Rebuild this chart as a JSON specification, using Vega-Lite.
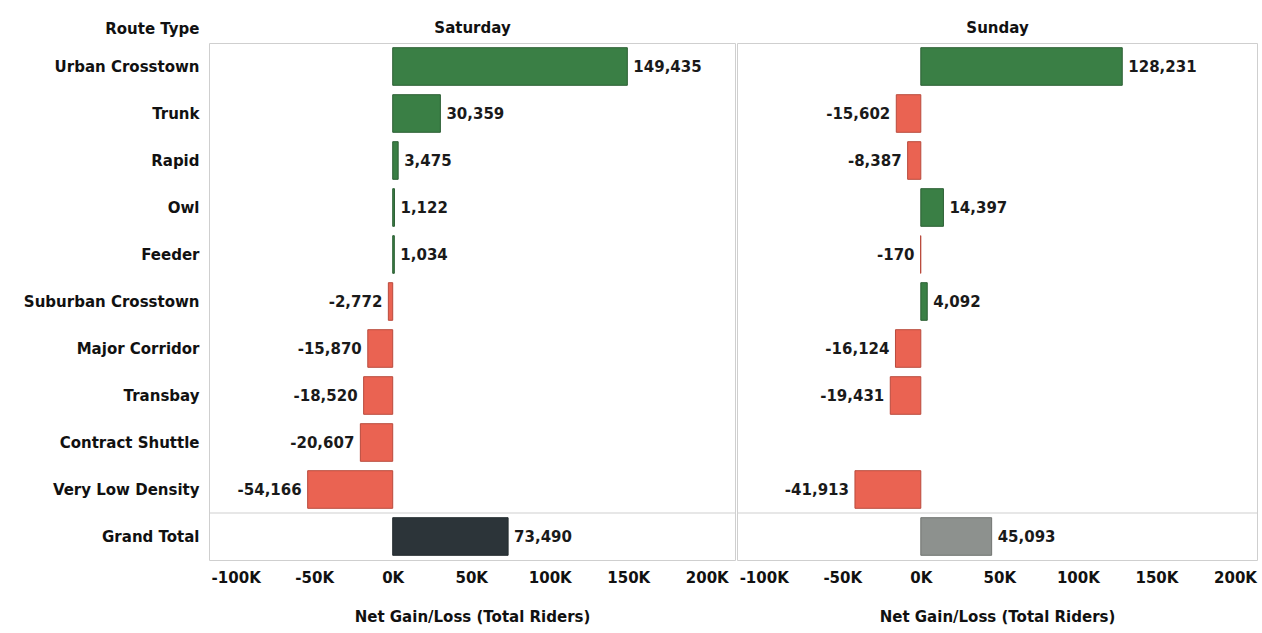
{
  "$schema": "https://vega.github.io/schema/vega-lite/v6.json",
  "background": "white",
  "padding": {"left": 0, "top": 19, "right": 6, "bottom": 0},
  "spacing": 0,
  "config": {
    "font": "DejaVu Sans",
    "view": {"stroke": "#cfcfcf"},
    "locale": {"number": {"decimal": ".", "thousands": ",", "grouping": [3], "currency": ["$", ""], "minus": "-"}}
  },
  "datasets": {
    "rides": [
      {"route": "Urban Crosstown", "day": "Saturday", "value": 149435, "status": "Gain"},
      {"route": "Trunk", "day": "Saturday", "value": 30359, "status": "Gain"},
      {"route": "Rapid", "day": "Saturday", "value": 3475, "status": "Gain"},
      {"route": "Owl", "day": "Saturday", "value": 1122, "status": "Gain"},
      {"route": "Feeder", "day": "Saturday", "value": 1034, "status": "Gain"},
      {"route": "Suburban Crosstown", "day": "Saturday", "value": -2772, "status": "Loss"},
      {"route": "Major Corridor", "day": "Saturday", "value": -15870, "status": "Loss"},
      {"route": "Transbay", "day": "Saturday", "value": -18520, "status": "Loss"},
      {"route": "Contract Shuttle", "day": "Saturday", "value": -20607, "status": "Loss"},
      {"route": "Very Low Density", "day": "Saturday", "value": -54166, "status": "Loss"},
      {"route": "Grand Total", "day": "Saturday", "value": 73490, "status": "Total Saturday"},
      {"route": "Urban Crosstown", "day": "Sunday", "value": 128231, "status": "Gain"},
      {"route": "Trunk", "day": "Sunday", "value": -15602, "status": "Loss"},
      {"route": "Rapid", "day": "Sunday", "value": -8387, "status": "Loss"},
      {"route": "Owl", "day": "Sunday", "value": 14397, "status": "Gain"},
      {"route": "Feeder", "day": "Sunday", "value": -170, "status": "Loss"},
      {"route": "Suburban Crosstown", "day": "Sunday", "value": 4092, "status": "Gain"},
      {"route": "Major Corridor", "day": "Sunday", "value": -16124, "status": "Loss"},
      {"route": "Transbay", "day": "Sunday", "value": -19431, "status": "Loss"},
      {"route": "Very Low Density", "day": "Sunday", "value": -41913, "status": "Loss"},
      {"route": "Grand Total", "day": "Sunday", "value": 45093, "status": "Total Sunday"}
    ]
  },
  "hconcat": [
    {
      "data": {"name": "rides"},
      "transform": [{"filter": "datum.day === 'Saturday'"}],
      "width": 526,
      "height": 517,
      "resolve": {"axis": {"x": "independent"}},
      "layer": [
        {
          "mark": {"type": "bar", "strokeWidth": 1},
          "encoding": {
            "y": {"field": "route", "type": "nominal",
              "scale": {"domain": ["Urban Crosstown", "Trunk", "Rapid", "Owl", "Feeder", "Suburban Crosstown", "Major Corridor", "Transbay", "Contract Shuttle", "Very Low Density", "Grand Total"], "paddingInner": 0.2, "paddingOuter": 0.1},
              "axis": {"title": "Route Type", "titleAngle": 0, "titleAlign": "right", "titleBaseline": "middle", "titleX": -10, "titleY": -15, "titleFontSize": 15, "titleFontWeight": "bold", "titleColor": "#111",
                "labelFontSize": 15, "labelFontWeight": "bold", "labelColor": "#111", "labelPadding": 10, "labelLimit": 300,
                "ticks": false, "domain": false, "minExtent": 208, "maxExtent": 208}},
            "x": {"field": "value", "type": "quantitative",
              "scale": {"domain": [-117000, 218000], "nice": false, "zero": false},
              "axis": {"title": "Net Gain/Loss (Total Riders)", "values": [-100000, -50000, 0, 50000, 100000, 150000, 200000], "labelExpr": "(datum.value / 1000) + 'K'",
                "grid": false, "domain": false, "ticks": false, "labelFlush": false, "labelOverlap": false, "labelBound": false,
                "labelFontSize": 15, "labelFontWeight": "bold", "labelColor": "#111", "labelPadding": 10,
                "titleFontSize": 15, "titleFontWeight": "bold", "titleColor": "#111", "titlePadding": 24}},
            "color": {"field": "status", "type": "nominal", "legend": null,
              "scale": {"domain": ["Gain", "Loss", "Total Saturday", "Total Sunday"], "range": ["#3a7f45", "#ea6352", "#2c3439", "#8d918e"]}},
            "stroke": {"field": "status", "type": "nominal", "legend": null,
              "scale": {"domain": ["Gain", "Loss", "Total Saturday", "Total Sunday"], "range": ["#2c5f34", "#b94a3c", "#222a2e", "#707470"]}}
          }
        },
        {
          "mark": {"type": "text", "font": "DejaVu Sans", "fontWeight": "bold", "fontSize": 15, "color": "#1a1a1a",
            "align": {"expr": "datum.value < 0 ? 'right' : 'left'"}, "dx": {"expr": "datum.value < 0 ? -6 : 6"}},
          "encoding": {
            "y": {"field": "route", "type": "nominal"},
            "x": {"field": "value", "type": "quantitative",
              "axis": {"orient": "top", "title": "Saturday", "labels": false, "ticks": false, "domain": false, "grid": false,
                "titleFontSize": 15, "titleFontWeight": "bold", "titleColor": "#111", "titlePadding": 8}},
            "text": {"field": "value", "type": "quantitative", "format": ","}
          }
        },
        {
          "transform": [{"filter": "datum.route === 'Grand Total'"}],
          "mark": {"type": "rule", "color": "#cfcfcf", "strokeWidth": 1},
          "encoding": {"y": {"field": "route", "type": "nominal", "bandPosition": -0.125}}
        }
      ]
    },
    {
      "data": {"name": "rides"},
      "transform": [{"filter": "datum.day === 'Sunday'"}],
      "width": 520,
      "height": 517,
      "resolve": {"axis": {"x": "independent"}},
      "layer": [
        {
          "mark": {"type": "bar", "strokeWidth": 1},
          "encoding": {
            "y": {"field": "route", "type": "nominal",
              "scale": {"domain": ["Urban Crosstown", "Trunk", "Rapid", "Owl", "Feeder", "Suburban Crosstown", "Major Corridor", "Transbay", "Contract Shuttle", "Very Low Density", "Grand Total"], "paddingInner": 0.2, "paddingOuter": 0.1},
              "axis": null},
            "x": {"field": "value", "type": "quantitative",
              "scale": {"domain": [-117000, 214000], "nice": false, "zero": false},
              "axis": {"title": "Net Gain/Loss (Total Riders)", "values": [-100000, -50000, 0, 50000, 100000, 150000, 200000], "labelExpr": "(datum.value / 1000) + 'K'",
                "grid": false, "domain": false, "ticks": false, "labelFlush": false, "labelOverlap": false, "labelBound": false,
                "labelFontSize": 15, "labelFontWeight": "bold", "labelColor": "#111", "labelPadding": 10,
                "titleFontSize": 15, "titleFontWeight": "bold", "titleColor": "#111", "titlePadding": 24}},
            "color": {"field": "status", "type": "nominal", "legend": null,
              "scale": {"domain": ["Gain", "Loss", "Total Saturday", "Total Sunday"], "range": ["#3a7f45", "#ea6352", "#2c3439", "#8d918e"]}},
            "stroke": {"field": "status", "type": "nominal", "legend": null,
              "scale": {"domain": ["Gain", "Loss", "Total Saturday", "Total Sunday"], "range": ["#2c5f34", "#b94a3c", "#222a2e", "#707470"]}}
          }
        },
        {
          "mark": {"type": "text", "font": "DejaVu Sans", "fontWeight": "bold", "fontSize": 15, "color": "#1a1a1a",
            "align": {"expr": "datum.value < 0 ? 'right' : 'left'"}, "dx": {"expr": "datum.value < 0 ? -6 : 6"}},
          "encoding": {
            "y": {"field": "route", "type": "nominal"},
            "x": {"field": "value", "type": "quantitative",
              "axis": {"orient": "top", "title": "Sunday", "labels": false, "ticks": false, "domain": false, "grid": false,
                "titleFontSize": 15, "titleFontWeight": "bold", "titleColor": "#111", "titlePadding": 8}},
            "text": {"field": "value", "type": "quantitative", "format": ","}
          }
        },
        {
          "transform": [{"filter": "datum.route === 'Grand Total'"}],
          "mark": {"type": "rule", "color": "#cfcfcf", "strokeWidth": 1},
          "encoding": {"y": {"field": "route", "type": "nominal", "bandPosition": -0.125}}
        }
      ]
    }
  ]
}
